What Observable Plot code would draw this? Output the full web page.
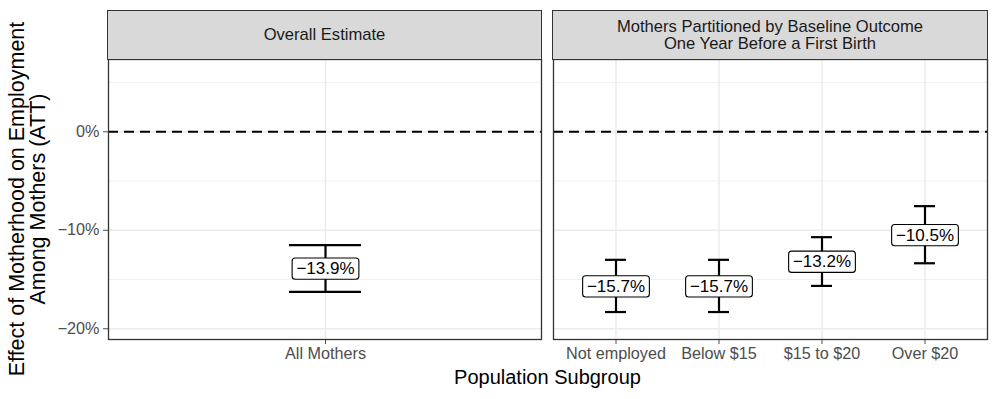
<!DOCTYPE html>
<html><head><meta charset="utf-8">
<script src="https://cdn.jsdelivr.net/npm/d3@7"></script>
<script src="https://cdn.jsdelivr.net/npm/@observablehq/plot@0.6"></script>
<style>
body{margin:0;background:#fff;}
#wrap{position:relative;width:997px;height:399px;font-family:"Liberation Sans",Arial,sans-serif;overflow:hidden;background:#fff;}
.panel{position:absolute;top:0;}
.strip{position:absolute;box-sizing:border-box;background:#D9D9D9;border:1.3px solid #333;color:#1A1A1A;font-size:16.6px;display:flex;align-items:center;justify-content:center;text-align:center;line-height:17.5px;top:10.35px;height:49.6px;}
#ytitle{position:absolute;left:28px;top:199px;width:440px;text-align:center;font-size:21.5px;line-height:21px;color:#000;transform:translate(-50%,-50%) rotate(-90deg);white-space:nowrap;}
#xtitle{position:absolute;left:547.5px;top:367px;transform:translateX(-50%);font-size:20px;line-height:20px;color:#000;white-space:nowrap;}
</style>
</head><body>
<div id="wrap"></div>
<script>
// ---- data ----
const overallGroups = ["All Mothers"];
const overallEst = [-13.9];
const overallLo = [-16.25];
const overallHi = [-11.5];

const subGroups = ["Not employed", "Below $15", "$15 to $20", "Over $20"];
const subEst = [-15.7, -15.7, -13.2, -10.5];
const subLo = [-18.3, -18.3, -15.65, -13.35];
const subHi = [-13.0, -13.0, -10.7, -7.55];

const yTicks = [0, -10, -20];
const yMinor = [5, -5, -15];
const yDomain = [-21.09, 7.34];
const refLine = [0];

const stripTitles = ["Overall Estimate", "Mothers Partitioned by Baseline Outcome<br>One Year Before a First Birth"];
const xTitle = "Population Subgroup";
const yTitle = "Effect of Motherhood on Employment<br>Among Mothers (ATT)";

// ---- helpers ----
const fmt = v => (v < 0 ? "\u2212" : "") + Math.abs(v).toFixed(1) + "%";
const tickFmt = v => (v < 0 ? "\u2212" : "") + Math.abs(v) + "%";

function panel(groups, est, lo, hi, showY, width, mLeft) {
  const rows = groups.map((g, i) => ({group: g, est: est[i], lo: lo[i], hi: hi[i]}));
  return Plot.plot({
    width: width,
    height: 399,
    marginLeft: mLeft,
    marginRight: 1,
    marginTop: 59,
    marginBottom: 60,
    style: {fontFamily: '"Liberation Sans", Arial, sans-serif', fontSize: "16.2px", color: "#4D4D4D", background: "transparent", overflow: "visible"},
    x: {type: "band", domain: groups, paddingInner: 0.8, paddingOuter: 0.5, tickSize: 5, tickPadding: 3, label: null},
    y: showY
      ? {domain: yDomain, ticks: yTicks, tickFormat: tickFmt, tickSize: 5, tickPadding: 4, label: null}
      : {domain: yDomain, axis: null},
    marks: [
      Plot.ruleY(yMinor, {y: d => d, stroke: "#EBEBEB", strokeWidth: 0.7}),
      Plot.ruleY(yTicks, {y: d => d, stroke: "#EBEBEB", strokeWidth: 1.4}),
      Plot.ruleX(groups, {x: d => d, stroke: "#EBEBEB", strokeWidth: 1.4}),
      Plot.ruleY(refLine, {y: d => d, stroke: "#000", strokeWidth: 2, strokeDasharray: "10,6"}),
      Plot.ruleX(rows, {x: "group", y1: "lo", y2: "hi", stroke: "#000", strokeWidth: 2.2}),
      Plot.tickY(rows, {x: "group", y: "lo", stroke: "#000", strokeWidth: 2.2}),
      Plot.tickY(rows, {x: "group", y: "hi", stroke: "#000", strokeWidth: 2.2}),
      Plot.text(rows, {x: "group", y: "est", text: d => fmt(d.est), fontSize: 17, fill: "#000"}),
      Plot.frame({stroke: "#333", strokeWidth: 1.3})
    ]
  });
}

function addBoxes(svg) {
  const texts = svg.querySelectorAll('g[aria-label="text"] text');
  texts.forEach(t => {
    const b = t.getBBox();
    const r = document.createElementNS("http://www.w3.org/2000/svg", "rect");
    const h = 21.3, pad = 4.3;
    r.setAttribute("x", b.x - pad);
    r.setAttribute("y", b.y + b.height / 2 - h / 2);
    r.setAttribute("width", b.width + 2 * pad);
    r.setAttribute("height", h);
    r.setAttribute("rx", 3);
    r.setAttribute("ry", 3);
    r.setAttribute("fill", "#fff");
    r.setAttribute("stroke", "#000");
    r.setAttribute("stroke-width", 1.1);
    const tr = t.getAttribute("transform");
    if (tr) r.setAttribute("transform", tr);
    t.parentNode.insertBefore(r, t);
  });
}

const wrap = document.getElementById("wrap");

const p1 = panel(overallGroups, overallEst, overallLo, overallHi, true, 542, 108);
p1.classList.add("panel"); p1.style.left = "0px";
wrap.appendChild(p1);

const p2 = panel(subGroups, subEst, subLo, subHi, false, 436, 1);
p2.classList.add("panel"); p2.style.left = "552px";
wrap.appendChild(p2);

addBoxes(p1); addBoxes(p2);

const s1 = document.createElement("div");
s1.className = "strip"; s1.style.left = "107.35px"; s1.style.width = "434.3px";
s1.innerHTML = stripTitles[0];
wrap.appendChild(s1);

const s2 = document.createElement("div");
s2.className = "strip"; s2.style.left = "552.35px"; s2.style.width = "435.3px";
s2.innerHTML = stripTitles[1];
wrap.appendChild(s2);

const yt = document.createElement("div"); yt.id = "ytitle"; yt.innerHTML = yTitle; wrap.appendChild(yt);
const xt = document.createElement("div"); xt.id = "xtitle"; xt.textContent = xTitle; wrap.appendChild(xt);
</script>
</body></html>
